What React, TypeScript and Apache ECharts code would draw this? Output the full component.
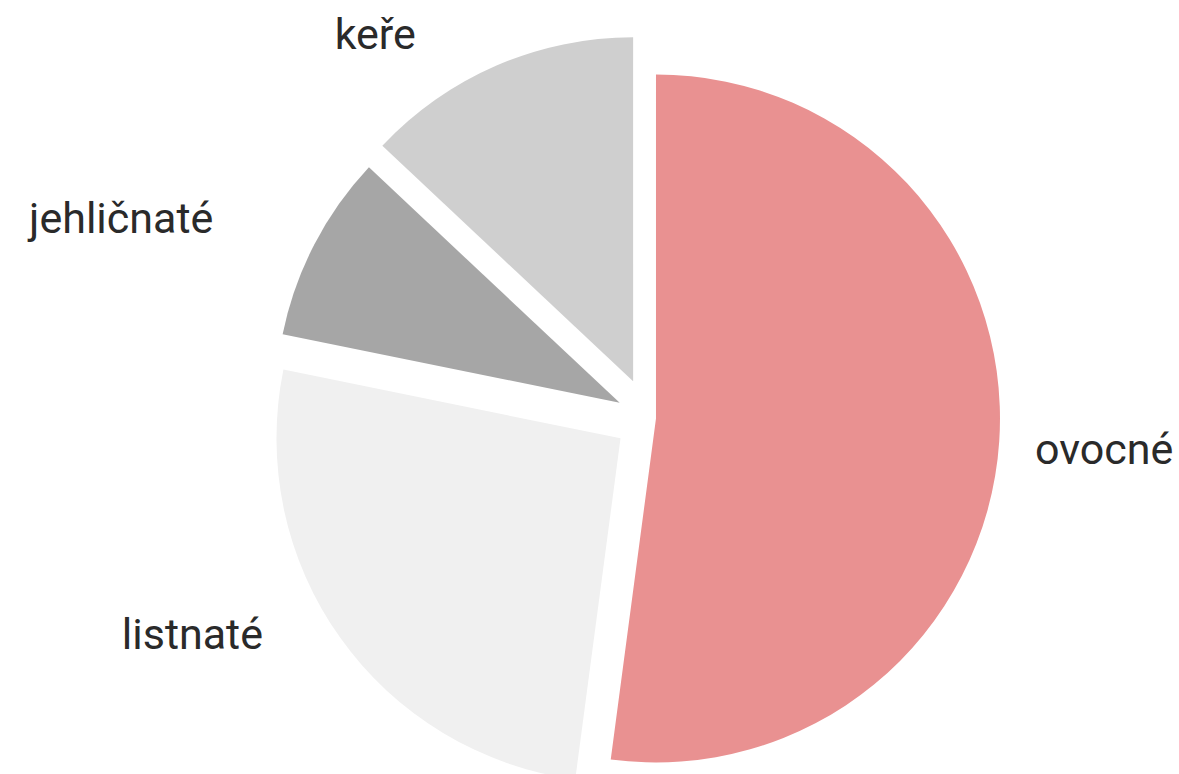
import React, { useEffect, useRef } from "react";
import * as echarts from "echarts";

const categories = ["ovocné", "listnaté", "jehličnaté", "keře"];
const values = [52.1, 26.1, 8.8, 13.0];
const colors = ["#e99191", "#f0f0f0", "#a6a6a6", "#cfcfcf"];
// explode distance per slice (px)
const offsets = [7, 35, 33, 40];
// label placement (label line hidden)
const labelLen1 = [125, -7, 57.5, 34.7];
const labelLen2 = [-94, 78, 44.8, 61.9];

export default function App() {
  const ref = useRef<HTMLDivElement>(null);
  useEffect(() => {
    if (!ref.current) return;
    const chart = echarts.init(ref.current, undefined, { renderer: "svg" });
    const series = categories.map((_, s) => ({
      type: "pie",
      center: [649, 418],
      radius: 344,
      startAngle: 90,
      clockwise: true,
      silent: true,
      selectedMode: "multiple",
      selectedOffset: offsets[s],
      avoidLabelOverlap: false,
      emphasis: { disabled: true },
      z: 2,
      data: categories.map((name, i) => ({
        name,
        value: values[i],
        selected: i === s,
        itemStyle: { color: i === s ? colors[i] : "rgba(0,0,0,0)", borderWidth: 0 },
        select: { itemStyle: { color: i === s ? colors[i] : "rgba(0,0,0,0)", borderWidth: 0 } },
        label: {
          show: i === s,
          position: "outside",
          fontFamily: "Roboto",
          fontSize: 43,
          color: "#2a2a2a",
          distanceToLabelLine: 5,
        },
        labelLine: { show: false, length: labelLen1[i], length2: labelLen2[i] },
      })),
    }));
    chart.setOption({
      animation: false,
      backgroundColor: "#ffffff",
      series,
    });
    return () => chart.dispose();
  }, []);
  return (
    <div
      ref={ref}
      style={{ position: "fixed", left: 0, top: 0, width: 1179, height: 774 }}
    />
  );
}
